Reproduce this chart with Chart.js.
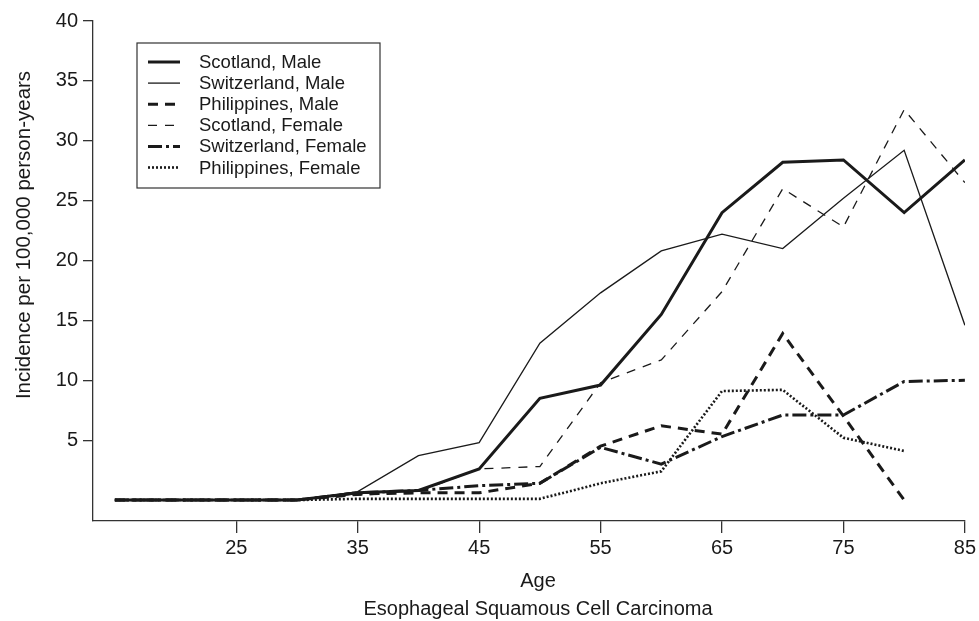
<!DOCTYPE html>
<html>
<head>
<meta charset="utf-8">
<script src="https://cdn.jsdelivr.net/npm/chart.js@4.4.0/dist/chart.umd.min.js"></script>
<style>
  html, body { margin: 0; padding: 0; background: #fff; }
  #wrap { width: 979px; height: 621px; }
</style>
</head>
<body>
<div id="wrap"><canvas id="chart" width="979" height="621"></canvas></div>
<script>
// Data
const ages = [15, 20, 25, 30, 35, 40, 45, 50, 55, 60, 65, 70, 75, 80, 85];

const scotlandMale      = [0, 0, 0, 0, 0.6, 0.8, 2.6, 8.5, 9.6, 15.5, 24.0, 28.2, 28.4, 24.0, 28.4];
const switzerlandMale   = [0, 0, 0, 0, 0.7, 3.7, 4.8, 13.1, 17.3, 20.8, 22.2, 21.0, 25.2, 29.2, 14.6];
const philippinesMale   = [0, 0, 0, 0, 0.5, 0.6, 0.6, 1.4, 4.5, 6.2, 5.5, 13.9, 7.0, 0, null];
const scotlandFemale    = [0, 0, 0, 0, 0.4, 0.7, 2.6, 2.8, 9.8, 11.7, 17.4, 26.0, 22.8, 32.6, 26.5];
const switzerlandFemale = [0, 0, 0, 0, 0.6, 0.8, 1.2, 1.4, 4.4, 3.0, 5.3, 7.1, 7.1, 9.9, 10.0];
const philippinesFemale = [0, 0, 0, 0, 0.1, 0.1, 0.1, 0.1, 1.4, 2.4, 9.1, 9.2, 5.2, 4.1, null];

const xTicks = [25, 35, 45, 55, 65, 75, 85];
const yTicks = [5, 10, 15, 20, 25, 30, 35, 40];

const FONT = '"Liberation Sans", Arial, Helvetica, sans-serif';
const INK = '#1a1a1a';
const AXIS = '#333';

function pts(vals) {
    return ages.map((a, i) => ({ x: a, y: vals[i] }));
}

const series = [
    { label: 'Scotland, Male',       data: scotlandMale,      width: 3,   dash: [] },
    { label: 'Switzerland, Male',    data: switzerlandMale,   width: 1.3, dash: [] },
    { label: 'Philippines, Male',    data: philippinesMale,   width: 3,   dash: [10, 7] },
    { label: 'Scotland, Female',     data: scotlandFemale,    width: 1.3, dash: [9, 8] },
    { label: 'Switzerland, Female',  data: switzerlandFemale, width: 3,   dash: [14, 4, 3, 4] },
    { label: 'Philippines, Female',  data: philippinesFemale, width: 2.6, dash: [2, 2] }
];

// Boxed legend in the upper left, axis captions
const extras = {
    id: 'extras',
    afterDraw(chart) {
        const ctx = chart.ctx;
        ctx.save();

        // legend box
        const bx = 137, by = 43, bw = 243, bh = 145;
        ctx.strokeStyle = AXIS;
        ctx.lineWidth = 1.2;
        ctx.setLineDash([]);
        ctx.strokeRect(bx, by, bw, bh);

        ctx.font = '18.5px ' + FONT;
        ctx.textBaseline = 'middle';
        ctx.textAlign = 'left';
        series.forEach((s, i) => {
            const y = 62 + i * 21.1;
            ctx.beginPath();
            ctx.strokeStyle = INK;
            ctx.lineWidth = s.width;
            ctx.setLineDash(s.dash);
            ctx.moveTo(148, y);
            ctx.lineTo(180, y);
            ctx.stroke();
            ctx.setLineDash([]);
            ctx.fillStyle = INK;
            ctx.fillText(s.label, 199, y + 1);
        });

        // x axis captions
        ctx.textAlign = 'center';
        ctx.font = '20px ' + FONT;
        ctx.fillText('Age', 538, 581);
        ctx.fillText('Esophageal Squamous Cell Carcinoma', 538, 609);

        // y axis caption
        ctx.translate(24, 235);
        ctx.rotate(-Math.PI / 2);
        ctx.font = '20.5px ' + FONT;
        ctx.fillText('Incidence per 100,000 person-years', 0, 0);
        ctx.restore();
    }
};

new Chart(document.getElementById('chart'), {
    type: 'line',
    data: {
        datasets: series.map(s => ({
            label: s.label,
            data: pts(s.data),
            borderColor: INK,
            borderWidth: s.width,
            borderDash: s.dash,
            pointRadius: 0,
            tension: 0,
            fill: false,
            spanGaps: false
        }))
    },
    options: {
        responsive: false,
        animation: false,
        layout: { padding: { top: 21, right: 13, left: 0, bottom: 0 } },
        plugins: {
            legend: { display: false },
            tooltip: { enabled: false }
        },
        scales: {
            x: {
                type: 'linear',
                min: 13.2,
                max: 85,
                afterBuildTicks: scale => { scale.ticks = xTicks.map(v => ({ value: v })); },
                afterFit: scale => { scale.height = 100; },
                ticks: { color: INK, font: { family: FONT, size: 20 }, padding: 3, maxRotation: 0 },
                grid: { drawOnChartArea: false, drawTicks: true, tickLength: 12, color: AXIS, lineWidth: 1.3 },
                border: { display: true, color: AXIS, width: 1.3 }
            },
            y: {
                type: 'linear',
                min: -1.75,
                max: 40,
                afterBuildTicks: scale => { scale.ticks = yTicks.map(v => ({ value: v })); },
                afterFit: scale => { scale.width = 93; },
                ticks: { color: INK, font: { family: FONT, size: 20 }, padding: 5 },
                grid: { drawOnChartArea: false, drawTicks: true, tickLength: 10, color: AXIS, lineWidth: 1.3 },
                border: { display: true, color: AXIS, width: 1.3 }
            }
        }
    },
    plugins: [extras]
});
</script>
</body>
</html>
